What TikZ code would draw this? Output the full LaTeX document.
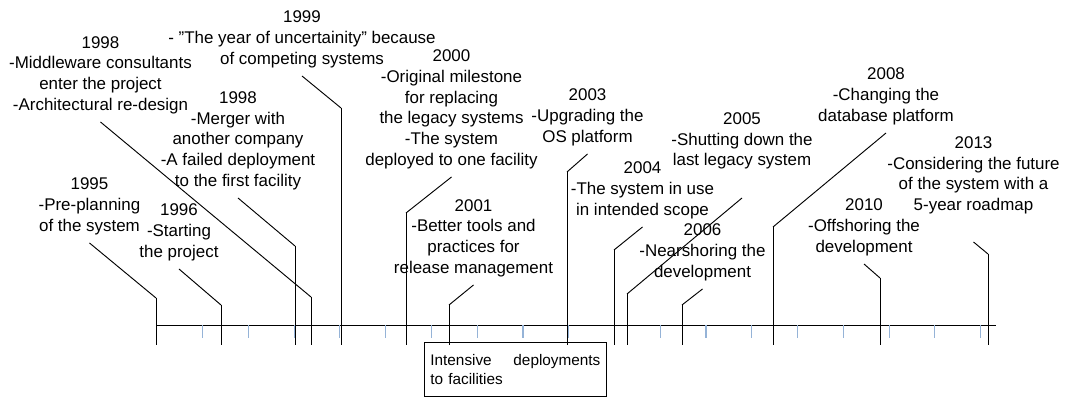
\documentclass[tikz,border=0pt]{standalone}
\usepackage{fontspec}
\setmainfont{Liberation Sans}
\usetikzlibrary{arrows.meta}
\usetikzlibrary{positioning}
\definecolor{tickblue}{RGB}{149,179,215}

\begin{document}
\begin{tikzpicture}[x=0.75pt, y=-0.75pt]
	\useasboundingbox (0,0) rectangle (1067,398);
	% time axis and the small ticks
	\draw[line width=0.7pt] (156,325) -- (996,325);
	\foreach \k in {1,...,18}
		\draw[tickblue, line width=0.8pt] (156.9+45.76*\k,325) -- ++(0,13);

	\begin{scope}[every node/.style={align=center, inner sep=0pt, outer ysep=6pt, anchor=south,
	              font=\fontsize{12.7}{15.6}\selectfont}]
		\node (1) at (89.5,243) {1995\\-Pre-planning\\of the system};
		\node (2) at (179,269) {1996\\-Starting\\the project};
		\node (3) at (100.5,122) {1998\\-Middleware consultants\\enter the project\\-Architectural re-design};
		\node (4) at (238,198) {1998\\-Merger with\\another company\\-A failed deployment\\to the first facility};
		\node (5) at (302,76) {1999\\- ”The year of uncertainity” because\\of competing systems};
		\node (6) at (451.5,177) {2000\\-Original milestone\\for replacing\\the legacy systems\\-The system\\deployed to one facility};
		\node (7) at (473.5,285) {2001\\-Better tools and\\practices for\\release management};
		\node (8) at (587.5,154) {2003\\-Upgrading the\\OS platform};
		\node (9) at (642.5,227) {2004\\-The system in use\\in intended scope};
		\node[outer ysep=21.5pt] (10) at (742,198) {2005\\-Shutting down the\\last legacy system};
		\node (11) at (702.5,289) {2006\\-Nearshoring the\\development};
		\node (12) at (886,133) {2008\\-Changing the\\database platform};
		\node (13) at (864,264) {2010\\-Offshoring the\\development};
		\node[outer ysep=20.8pt] (14) at (973.5,242) {2013\\-Considering the future\\of the system with a\\5-year roadmap};
	\end{scope}

	\node[draw, line width=0.6pt, anchor=north west, minimum width=136.5pt, minimum height=40.5pt,
	      text width=127.5pt, inner xsep=4.5pt, inner ysep=0pt, align=left,
	      font=\fontsize{11.5}{14.5}\selectfont] (box) at (424,342) {Intensive\hfill deployments\\to facilities};

	% bends and feet of the leader lines
	\coordinate (k1) at (156,298);  \coordinate (f1) at (156,345);
	\coordinate (k2) at (221,305);  \coordinate (f2) at (221,345);
	\coordinate (k3) at (311,297);  \coordinate (f3) at (311,345);
	\coordinate (k4) at (295,246);  \coordinate (f4) at (295,345);
	\coordinate (k5) at (341,108);  \coordinate (f5) at (341,345);
	\coordinate (k6) at (406,213);  \coordinate (f6) at (406,345);
	\coordinate (k7) at (449,305);  \coordinate (f7) at (449,345);
	\coordinate (k8) at (567,172);  \coordinate (f8) at (567,345);
	\coordinate (k9) at (614,250);  \coordinate (f9) at (614,345);
	\coordinate (k10) at (627,294); \coordinate (f10) at (627,345);
	\coordinate (k11) at (682,305); \coordinate (f11) at (682,345);
	\coordinate (k12) at (773,227); \coordinate (f12) at (773,345);
	\coordinate (k13) at (880,278); \coordinate (f13) at (880,345);
	\coordinate (k14) at (988,254); \coordinate (f14) at (988,345);

	\begin{scope}[every edge/.style={draw=black, line width=0.7pt}]
		\path (1.south) edge (k1) (k1) edge (f1);
		\path (2.south) edge (k2) (k2) edge (f2);
		\path (3.south) edge (k3) (k3) edge (f3);
		\path (4.south) edge (k4) (k4) edge (f4);
		\path (5.south) edge (k5) (k5) edge (f5);
		\path (6.south) edge (k6) (k6) edge (f6);
		\path (7.south) edge (k7) (k7) edge (f7);
		\path (8.south) edge (k8) (k8) edge (f8);
		\path (9.south) edge (k9) (k9) edge (f9);
		\path (10.south) edge (k10) (k10) edge (f10);
		\path (11.south) edge (k11) (k11) edge (f11);
		\path (12.south) edge (k12) (k12) edge (f12);
		\path (13.south) edge (k13) (k13) edge (f13);
		\path (14.south) edge (k14) (k14) edge (f14);
	\end{scope}
\end{tikzpicture}
\end{document}
